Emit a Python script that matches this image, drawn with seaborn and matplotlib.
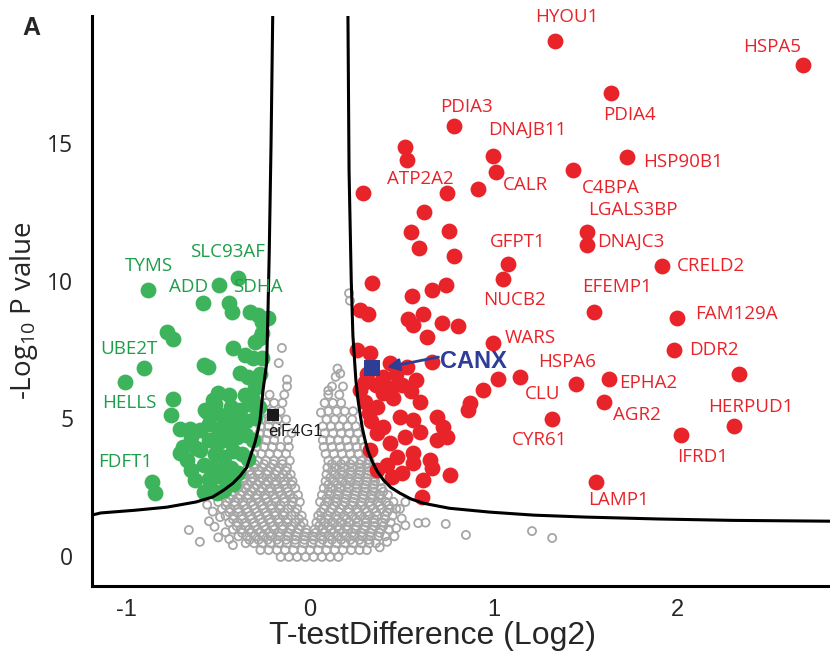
import numpy as np
import pandas as pd
import matplotlib
matplotlib.use("Agg")
import matplotlib.pyplot as plt
import seaborn as sns

sns.set_style("white")
plt.rcParams['font.family'] = ['Open Sans', 'DejaVu Sans']

# ---------------- data ----------------
# non-significant proteins (gray open circles), written row by row
gray_y_levels = [-0.05, 0.2, 0.45, 0.7, 0.95, 1.2, 1.45, 1.7, 1.95, 2.2, 2.45, 2.7, 2.95,
                 3.2, 3.45, 3.7, 3.95, 4.2, 4.45, 4.7, 4.95, 5.25, 5.55, 5.85, 6.15,
                 0.575, 0.825, 1.075, 1.325, 1.575, 1.825, 2.075, 2.325, 2.575, 2.825,
                 3.075, 3.325]
gray_x_rows = [
    [-0.16, -0.115, -0.07, -0.025, 0.02, 0.065, 0.11, 0.155],
    [-0.27, -0.225, -0.18, -0.135, -0.09, -0.045, 0.0, 0.045, 0.09, 0.135, 0.18, 0.225, 0.27, 0.31],
    [-0.35, -0.305, -0.26, -0.215, -0.17, -0.125, -0.08, -0.035, 0.01, 0.055, 0.1, 0.145, 0.19, 0.235, 0.28, 0.325, 0.36],
    [-0.39, -0.345, -0.3, -0.255, -0.21, -0.165, -0.12, -0.075, -0.03, 0.015, 0.06, 0.105, 0.15, 0.195, 0.24, 0.285, 0.33, 0.375, 0.41],
    [-0.42, -0.375, -0.33, -0.285, -0.24, -0.195, -0.15, -0.105, -0.06, -0.02, 0.025, 0.07, 0.115, 0.16, 0.205, 0.25, 0.295, 0.34, 0.385, 0.43],
    [-0.44, -0.395, -0.35, -0.305, -0.26, -0.215, -0.17, -0.125, -0.08, -0.035, 0.035, 0.08, 0.125, 0.17, 0.215, 0.26, 0.305, 0.35, 0.395, 0.44],
    [-0.46, -0.415, -0.37, -0.325, -0.28, -0.235, -0.19, -0.145, -0.1, -0.045, 0.045, 0.095, 0.14, 0.185, 0.23, 0.275, 0.32, 0.365, 0.41, 0.45],
    [-0.48, -0.435, -0.39, -0.345, -0.3, -0.255, -0.21, -0.165, -0.12, -0.07, 0.075, 0.12, 0.165, 0.21, 0.255, 0.3, 0.345, 0.39, 0.435, 0.47],
    [-0.5, -0.455, -0.41, -0.365, -0.32, -0.275, -0.23, -0.185, -0.14, -0.095, -0.055, 0.055, 0.1, 0.145, 0.19, 0.235, 0.28, 0.325, 0.37, 0.415, 0.455],
    [-0.47, -0.425, -0.38, -0.335, -0.29, -0.245, -0.2, -0.155, -0.11, -0.065, 0.065, 0.11, 0.155, 0.2, 0.245, 0.29, 0.335, 0.38, 0.425],
    [-0.44, -0.395, -0.35, -0.305, -0.26, -0.215, -0.17, -0.125, -0.08, 0.075, 0.12, 0.165, 0.21, 0.255, 0.3, 0.345, 0.39],
    [-0.41, -0.365, -0.32, -0.275, -0.23, -0.185, -0.14, -0.095, 0.085, 0.13, 0.175, 0.22, 0.265, 0.31, 0.355, 0.385],
    [-0.36, -0.325, -0.28, -0.235, -0.19, -0.145, -0.105, 0.09, 0.135, 0.18, 0.225, 0.27, 0.315, 0.36],
    [-0.34, -0.305, -0.26, -0.215, -0.17, -0.125, 0.095, 0.14, 0.185, 0.23, 0.275, 0.32, 0.35],
    [-0.32, -0.285, -0.24, -0.195, -0.15, -0.11, 0.1, 0.145, 0.19, 0.235, 0.28, 0.325],
    [-0.305, -0.265, -0.22, -0.175, -0.13, 0.085, 0.13, 0.175, 0.22, 0.265, 0.31],
    [-0.29, -0.25, -0.205, -0.16, -0.115, 0.075, 0.12, 0.165, 0.21, 0.255, 0.295],
    [-0.28, -0.24, -0.195, -0.12, 0.07, 0.11, 0.155, 0.2, 0.245, 0.28],
    [-0.275, -0.23, -0.185, -0.1, 0.08, 0.125, 0.17, 0.215, 0.26],
    [-0.27, -0.225, -0.18, 0.07, 0.115, 0.16, 0.205, 0.25],
    [-0.265, -0.22, -0.175, -0.13, 0.09, 0.135, 0.18, 0.23],
    [-0.25, -0.205, -0.16, 0.1, 0.145, 0.19, 0.235],
    [-0.24, -0.195, -0.15, 0.08, 0.125, 0.17],
    [-0.22, -0.14, 0.1, 0.16],
    [-0.125, 0.12, 0.18],
    [-0.33, -0.28, -0.23, -0.18, -0.13, -0.08, -0.03, 0.02, 0.07, 0.12, 0.17, 0.22, 0.27, 0.32],
    [-0.37, -0.32, -0.27, -0.22, -0.17, -0.12, -0.07, -0.02, 0.03, 0.08, 0.13, 0.18, 0.23, 0.28, 0.33, 0.38],
    [-0.4, -0.35, -0.3, -0.25, -0.2, -0.15, -0.1, -0.05, 0.05, 0.1, 0.15, 0.2, 0.25, 0.3, 0.35, 0.4],
    [-0.42, -0.37, -0.32, -0.27, -0.22, -0.17, -0.12, -0.06, 0.06, 0.1, 0.15, 0.2, 0.25, 0.3, 0.35, 0.41],
    [-0.44, -0.39, -0.34, -0.29, -0.24, -0.19, -0.14, -0.08, 0.06, 0.11, 0.16, 0.21, 0.26, 0.31, 0.36, 0.42],
    [-0.46, -0.41, -0.36, -0.31, -0.26, -0.21, -0.16, -0.1, 0.08, 0.13, 0.18, 0.23, 0.28, 0.33, 0.38, 0.43],
    [-0.44, -0.39, -0.34, -0.29, -0.24, -0.19, -0.14, -0.09, 0.09, 0.14, 0.19, 0.24, 0.29, 0.34, 0.39],
    [-0.42, -0.37, -0.32, -0.27, -0.22, -0.17, -0.12, 0.1, 0.15, 0.2, 0.25, 0.3, 0.35, 0.4],
    [-0.39, -0.34, -0.29, -0.24, -0.19, -0.14, -0.1, 0.1, 0.15, 0.2, 0.25, 0.3, 0.35],
    [-0.36, -0.31, -0.26, -0.21, -0.16, -0.12, 0.11, 0.16, 0.21, 0.26, 0.31, 0.35],
    [-0.33, -0.28, -0.23, -0.18, -0.13, 0.12, 0.17, 0.22, 0.27, 0.32],
    [-0.3, -0.25, -0.2, -0.15, 0.12, 0.17, 0.22, 0.27, 0.31],
]
gray_sparse_x = [-0.66, -0.6, -0.5, -0.49, -0.42, -0.44, -0.46, -0.52, -0.55, -0.53, -0.56,
                 -0.153, -0.17, -0.125, 0.213, 0.218, 0.15, 0.165, 0.14, 0.1, 0.06,
                 0.52, 0.59, 0.63, 0.74, 0.85, 1.21, 1.32, 0.38, 0.42, 0.46, 0.47, 0.5, 0.49, 0.52]
gray_sparse_y = [0.93, 0.5, 0.66, 1.4, 0.38, 0.6, 0.85, 1.05, 1.25, 1.6, 1.85,
                 7.55, 7.0, 6.4, 9.54, 9.27, 6.8, 6.62, 6.5, 6.0, 5.2,
                 1.1, 1.18, 1.2, 1.15, 0.75, 0.89, 0.64, 0.3, 0.5, 0.7, 1.0, 1.35, 1.7, 1.95]

# significantly decreased (green)
green_x = [-0.881, -0.496, -0.394, -0.581, -0.44, -0.427, -0.327, -0.282, -0.263, -0.227,
           -0.781, -0.745, -0.418, -0.30, -0.354, -0.309, -0.578, -0.554, -0.905, -0.381,
           -0.336, -0.29, -1.007, -0.5, -0.44, -0.527, -0.354, -0.318, -0.745, -0.76,
           -0.418, -0.563, -0.509, -0.709, -0.654, -0.6, -0.69, -0.709, -0.6, -0.672,
           -0.627, -0.545, -0.509, -0.863, -0.845,
           -0.55, -0.5, -0.45, -0.4, -0.35, -0.3, -0.28, -0.33, -0.38, -0.43, -0.47,
           -0.55, -0.5, -0.45, -0.4, -0.35, -0.31, -0.52, -0.47, -0.42, -0.37, -0.34,
           -0.58, -0.53, -0.48, -0.43, -0.39, -0.55, -0.5, -0.45, -0.42, -0.47, -0.58,
           -0.65, -0.62, -0.65, -0.57, -0.52, -0.3, -0.27, -0.26, -0.27, -0.26]
green_y = [9.66, 9.84, 10.08, 9.17, 9.17, 8.87, 8.87, 8.75, 8.51, 8.63,
           8.14, 7.86, 7.54, 7.78, 7.29, 7.17, 6.93, 6.84, 6.81, 6.63,
           6.5, 6.38, 6.31, 5.9, 5.84, 5.66, 5.84, 5.72, 5.68, 5.11,
           5.23, 5.23, 5.17, 4.59, 4.59, 4.57, 3.96, 3.72, 3.84, 3.47,
           2.75, 2.5, 2.26, 2.69, 2.26,
           4.8, 4.6, 4.7, 4.8, 4.9, 5.0, 5.4, 5.5, 5.3, 5.4, 5.0,
           4.2, 4.1, 4.2, 4.3, 4.4, 4.2, 3.7, 3.6, 3.8, 3.7, 3.5,
           3.3, 3.2, 3.1, 3.2, 3.0, 2.8, 2.9, 2.7, 2.6, 2.4, 2.3,
           3.1, 3.9, 4.3, 5.3, 5.5, 6.1, 6.6, 7.2, 7.9, 8.1]

# significantly increased (red)
red_x = [1.335, 2.687, 1.64, 0.785, 1.727, 0.997, 1.013, 1.433, 0.916, 0.746,
         0.518, 0.528, 0.289, 1.51, 1.51, 1.918, 1.548, 2.0, 1.984, 2.34,
         2.31, 2.02, 1.63, 1.60, 1.45, 1.145, 1.317, 1.557, 0.997, 1.08, 1.05,
         0.621, 0.55, 0.757, 0.594, 0.785, 0.338, 0.556, 0.665, 0.741,
         0.272, 0.316, 0.534, 0.616, 0.72, 0.807, 0.561, 0.638,
         0.256, 0.327, 0.436, 0.528, 0.665, 1.025, 0.943, 0.872, 0.86,
         0.272, 0.30, 0.31, 0.40, 0.44, 0.5, 0.55, 0.6,
         0.365, 0.452, 0.49, 0.561, 0.69, 0.725, 0.398, 0.33, 0.365, 0.69, 0.746,
         0.327, 0.436, 0.474, 0.561, 0.654, 0.365, 0.561, 0.616, 0.665, 0.763, 0.447, 0.61,
         0.42, 0.5, 0.52, 0.6, 0.4, 0.36, 0.47, 0.58, 0.3, 0.32]
red_y = [18.71, 17.84, 16.82, 15.62, 14.48, 14.53, 13.95, 14.02, 13.34, 13.19,
         14.86, 14.38, 13.2, 11.76, 11.29, 10.53, 8.85, 8.63, 7.47, 6.6,
         4.71, 4.38, 6.42, 5.58, 6.23, 6.49, 4.96, 2.66, 7.72, 10.6, 10.05,
         12.49, 11.75, 11.8, 11.17, 10.9, 9.9, 9.43, 9.65, 9.84,
         8.93, 8.8, 8.6, 8.78, 8.45, 8.34, 8.38, 7.95,
         7.47, 7.36, 7.0, 6.86, 7.04, 6.42, 6.02, 5.55, 5.3,
         6.02, 6.3, 6.6, 6.5, 6.1, 6.2, 6.0, 5.6,
         5.4, 5.72, 5.04, 4.93, 5.04, 4.67, 4.67, 4.9, 4.45, 4.2, 4.31,
         3.84, 4.09, 3.58, 3.72, 3.47, 3.1, 3.36, 2.74, 3.18, 2.93, 2.85, 2.13,
         3.3, 3.0, 4.3, 4.5, 5.9, 6.2, 6.6, 6.4, 5.6, 5.2]

# highlighted proteins
canx_x, canx_y = [0.338], [6.82]
eif_x, eif_y = [-0.2], [5.1]

# significance threshold curves
left_curve_x = [-0.203, -0.212, -0.222, -0.229, -0.236, -0.246, -0.256, -0.272, -0.285, -0.30,
                -0.32, -0.345, -0.38, -0.42, -0.47, -0.53, -0.62, -0.78, -0.95, -1.14, -1.19]
left_curve_y = [19.62, 15.0, 11.0, 8.8, 7.0, 6.5, 6.0, 4.93, 4.5, 4.1,
                3.7, 3.2, 2.9, 2.63, 2.38, 2.13, 1.95, 1.76, 1.65, 1.55, 1.47]
right_curve_x = [0.207, 0.213, 0.225, 0.234, 0.242, 0.25, 0.26, 0.272, 0.285, 0.30, 0.316, 0.336,
                 0.365, 0.40, 0.44, 0.49, 0.55, 0.62, 0.76, 0.98, 1.22, 1.5, 1.9, 2.3, 2.834]
right_curve_y = [19.62, 14.0, 10.0, 8.0, 7.2, 6.4, 5.75, 5.2, 4.65, 4.2, 3.8, 3.47,
                 3.08, 2.75, 2.48, 2.27, 2.06, 1.9, 1.72, 1.58, 1.47, 1.40, 1.33, 1.28, 1.25]

# gene labels
red_labels = ['HYOU1', 'HSPA5', 'PDIA4', 'HSP90B1', 'C4BPA', 'LGALS3BP', 'DNAJC3', 'CRELD2',
              'EFEMP1', 'DNAJB11', 'PDIA3', 'CALR', 'ATP2A2', 'GFPT1', 'NUCB2', 'WARS',
              'HSPA6', 'CLU', 'EPHA2', 'AGR2', 'CYR61', 'HERPUD1', 'IFRD1', 'LAMP1',
              'FAM129A', 'DDR2']
green_labels = ['SLC93AF', 'TYMS', 'ADD', 'SDHA', 'UBE2T', 'HELLS', 'FDFT1']

# label anchor positions (left edge, vertical centre) in data units
red_label_pos = [(1.226, 19.6), (2.36, 18.5), (1.597, 16.02), (1.815, 14.31), (1.482, 13.35),
                 (1.515, 12.56), (1.564, 11.4), (2.0, 10.53), (1.482, 9.76), (0.97, 15.47),
                 (0.708, 16.31), (1.052, 13.47), (0.42, 13.69), (0.981, 11.4), (0.943, 9.29),
                 (1.063, 7.93), (1.243, 7.04), (1.172, 5.87), (1.684, 6.27), (1.651, 5.11),
                 (1.101, 4.2), (2.169, 5.4), (2.0, 3.58), (1.515, 2.02), (2.098, 8.78),
                 (2.065, 7.47)]
green_label_pos = [(-0.654, 11.05), (-1.008, 10.53), (-0.768, 9.75), (-0.42, 9.75),
                   (-1.144, 7.51), (-1.134, 5.55), (-1.155, 3.4)]

# ---------------- styling ----------------
RED = '#E8232A'
GREEN = '#3DB35B'
GREEN_TXT = '#1E9E4A'
GRAY = '#A6A6A6'
BLUE = '#2E3D96'
NARROW = ['Liberation Sans Narrow', 'Liberation Sans', 'DejaVu Sans']

gx, gy = [], []
for yv, row in zip(gray_y_levels, gray_x_rows):
    gx.extend(row)
    gy.extend([yv] * len(row))
gx.extend(gray_sparse_x)
gy.extend(gray_sparse_y)
gray_df = pd.DataFrame({'x': gx, 'y': gy})
green_df = pd.DataFrame({'x': green_x, 'y': green_y})
red_df = pd.DataFrame({'x': red_x, 'y': red_y})

fig = plt.figure(figsize=(8.3, 6.6), dpi=100)
ax = fig.add_axes([0.1108, 0.112, 0.8892, 0.8636])

sns.scatterplot(data=gray_df, x='x', y='y', ax=ax, s=34, marker='o',
                facecolor='none', edgecolor=GRAY, linewidth=1.3, zorder=1)
sns.scatterplot(data=green_df, x='x', y='y', ax=ax, s=130, color=GREEN,
                linewidth=0, zorder=2)
sns.scatterplot(data=red_df, x='x', y='y', ax=ax, s=130, color=RED,
                linewidth=0, zorder=2)

sns.lineplot(x=left_curve_x, y=left_curve_y, sort=False, estimator=None, ax=ax,
             color='black', linewidth=2.2, zorder=3)
sns.lineplot(x=right_curve_x, y=right_curve_y, sort=False, estimator=None, ax=ax,
             color='black', linewidth=2.2, zorder=3)

sns.scatterplot(x=canx_x, y=canx_y, ax=ax, marker='s', s=120, color=BLUE,
                linewidth=0, zorder=4)
sns.scatterplot(x=eif_x, y=eif_y, ax=ax, marker='s', s=64, color='#1a1a1a',
                linewidth=0, zorder=4)

for name, (lx, ly) in zip(red_labels, red_label_pos):
    ax.text(lx, ly, name, color=RED, fontsize=13.5, ha='left', va='center',
            clip_on=False, zorder=5)
for name, (lx, ly) in zip(green_labels, green_label_pos):
    ax.text(lx, ly, name, color=GREEN_TXT, fontsize=13.5, ha='left', va='center',
            clip_on=False, zorder=5)

ax.text(-0.229, 4.53, 'eiF4G1', color='#1a1a1a', fontsize=12,
        family=['Liberation Sans', 'DejaVu Sans'], ha='left', va='center', zorder=5)
ax.text(0.708, 7.07, 'CANX', color=BLUE, fontsize=17, fontweight='bold',
        family=['Liberation Sans', 'DejaVu Sans'], ha='left', va='center', zorder=5)
ax.annotate('', xy=(0.42, 6.85), xytext=(0.70, 7.22),
            arrowprops=dict(arrowstyle='-|>', color=BLUE, lw=2.0, mutation_scale=18,
                            shrinkA=0, shrinkB=0), zorder=5)

ax.set_xlim(-1.188, 2.834)
ax.set_ylim(-1.11, 19.62)
ax.set_xticks([-1, 0, 1, 2])
ax.set_yticks([0, 5, 10, 15])
ax.set_xticklabels(['-1', '0', '1', '2'], family=NARROW, fontsize=17)
ax.set_yticklabels(['0', '5', '10', '15'], fontsize=16.5)

for s in ['top', 'right']:
    ax.spines[s].set_visible(False)
for s in ['left', 'bottom']:
    ax.spines[s].set_linewidth(2.2)
    ax.spines[s].set_color('black')
ax.tick_params(axis='both', direction='out', length=6.5, width=2.6, color='black')
ax.tick_params(axis='y', pad=7)
ax.tick_params(axis='x', pad=3)

ax.set_xlabel('T-testDifference (Log2)', fontsize=23, family=NARROW)
ax.set_ylabel(r'-Log$_{\mathregular{10}}$ P value', fontsize=20)
ax.xaxis.set_label_coords(0.461, -0.088)
ax.xaxis.label.set_va('center')
ax.yaxis.set_label_coords(-0.092, 0.484)
ax.yaxis.label.set_va('center')

fig.text(31 / 830, 1 - 28 / 660, 'A', fontsize=18, fontweight='bold',
         family=['Liberation Sans', 'DejaVu Sans'], ha='center', va='center')

fig.savefig('out.png', dpi=100, facecolor='white')
